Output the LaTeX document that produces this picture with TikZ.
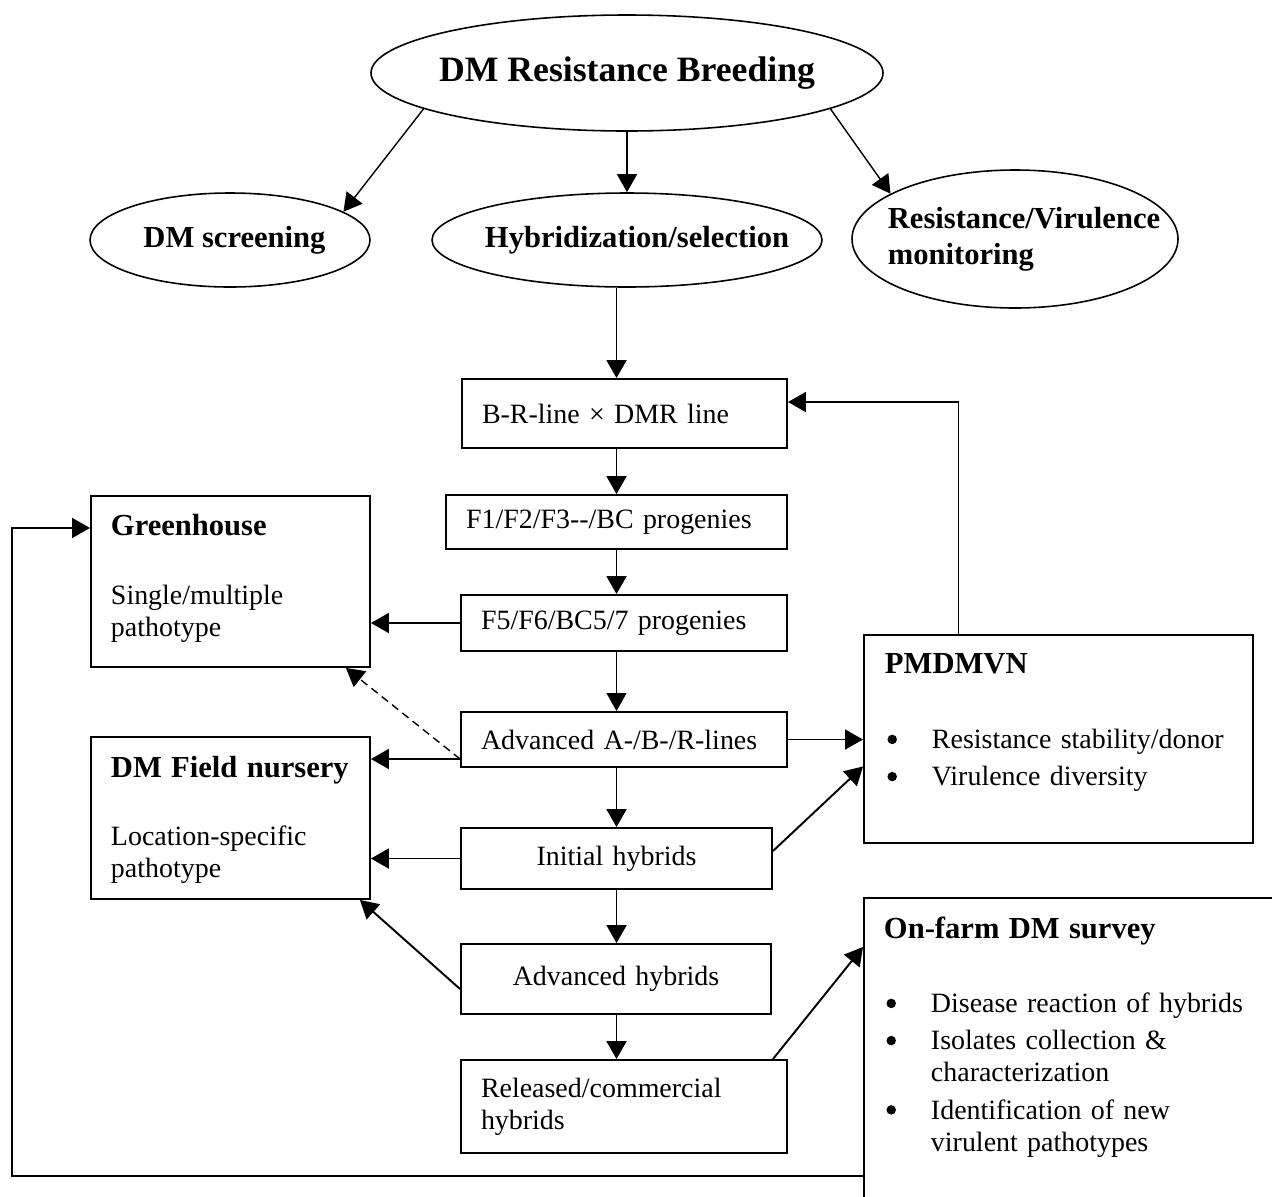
\documentclass[tikz,border=0pt]{standalone}
\usepackage{fontspec}
\setmainfont{Liberation Serif}
\usetikzlibrary{shapes.geometric,arrows.meta}

\begin{document}
\begin{tikzpicture}[
  font=\fontsize{15.9}{18.3}\selectfont,
  oval/.style={draw,ellipse,line width=0.9pt,inner sep=0pt},
  stage/.style={draw,rectangle,line width=1.1pt,inner xsep=0.4cm,align=left},
  panel/.style={draw,rectangle,line width=1.1pt,inner xsep=0.4cm,inner ysep=0pt,align=left,anchor=north west},
  head/.style={font=\fontsize{17.4}{20.5}\selectfont\bfseries},
  arr/.style={-{Triangle[length=0.36cm,width=0.4cm]},line width=1.1pt}]
\def\bul{\makebox[0.94cm][l]{\hspace{0.05cm}\tikz[baseline=-0.33em]\fill (0,0) circle (0.095cm);}}
\def\hd#1{{\fontsize{17.4}{20.5}\selectfont\bfseries #1}}

\useasboundingbox (0,0) rectangle (25.44,-23.92);
\clip (0,0) rectangle (25.44,-23.92);

% ellipses
\node[oval,minimum width=10.24cm,minimum height=2.32cm,
label={[font=\fontsize{20.3}{24}\selectfont\bfseries]center:DM Resistance Breeding}] (top) at (12.54,-1.46) {};
\node[oval,minimum width=5.6cm,minimum height=1.88cm,
label={[head,xshift=0.09cm]center:DM screening}] (screen) at (4.6,-4.8) {};
\node[oval,minimum width=7.8cm,minimum height=1.88cm,
label={[head,xshift=0.2cm]center:Hybridization/selection}] (hybrid) at (12.54,-4.8) {};
\node[oval,minimum width=6.52cm,minimum height=2.76cm,
label={[head,align=left,xshift=0.18cm]center:Resistance/Virulence\\monitoring}] (monitor) at (20.3,-4.78) {};

% breeding steps
\coordinate (axis) at (12.33,0);
\node[stage,text width=5.7cm,minimum height=1.38cm] (cross) at (12.49,-8.27) {B-R-line × DMR line};
\node[stage,text width=6.02cm,minimum height=1.08cm] (prog13) at (12.33,-10.44) {F1/F2/F3-{}-/BC progenies};
\node[stage,text width=5.72cm,minimum height=1.12cm] (prog57) at (12.48,-12.46) {F5/F6/BC5/7 progenies};
\node[stage,text width=5.72cm,minimum height=1.1cm] (lines) at (12.48,-14.79) {Advanced A-/B-/R-lines};
\node[stage,text width=5.42cm,minimum height=1.22cm,align=center] (inithyb) at (12.33,-17.17) {Initial hybrids};
\node[stage,text width=5.4cm,minimum height=1.4cm,align=center] (advhyb) at (12.32,-19.58) {Advanced hybrids};
\node[stage,text width=5.72cm,minimum height=1.86cm] (released) at (12.48,-22.13) {Released/commercial\\hybrids};

% side panels
\node[panel,text width=4.78cm,text height=0.8cm,text depth=2.62cm] (green) at (1.8,-9.9)
{\hd{Greenhouse}\\[0.73cm]Single/multiple\\pathotype};
\node[panel,text width=4.78cm,text height=0.82cm,text depth=2.42cm] (field) at (1.8,-14.72)
{\mbox{\hd{DM Field nursery}}\\[0.71cm]Location-specific\\pathotype};
\node[panel,inner xsep=0.42cm,text width=6.94cm,text height=0.78cm,text depth=3.38cm] (pmd) at (17.26,-12.68)
{\hd{PMDMVN}\\[0.85cm]\bul Resistance stability/donor\\[0.1cm]\bul Virulence diversity};
\node[panel,text width=8cm,text height=0.82cm,text depth=6cm] (farm) at (17.26,-17.94)
{\hd{On-farm DM survey}\\[0.83cm]\bul Disease reaction of hybrids\\[0.1cm]\bul Isolates collection \&\\\hspace*{0.94cm}characterization\\[0.1cm]\bul Identification of new\\\hspace*{0.94cm}virulent pathotypes};

% connectors
\draw[arr,line width=0.8pt] (top.190) -- (screen.14);
\draw[arr,line width=0.8pt] (top) -- (hybrid);
\draw[arr,line width=0.8pt] (top.350) -- (monitor.160);

\draw[arr] (hybrid.south -| axis) -- (cross.north -| axis);
\draw[arr] (cross.south -| axis) -- (prog13.north -| axis);
\draw[arr] (prog13.south -| axis) -- (prog57.north -| axis);
\draw[arr,line width=0.5pt] (prog57.south -| axis) -- (lines.north -| axis);
\draw[arr] (lines.south -| axis) -- (inithyb.north -| axis);
\draw[arr] (inithyb.south -| axis) -- (advhyb.north -| axis);
\draw[arr] (advhyb.south -| axis) -- (released.north -| axis);

\draw[arr] (prog57.west) -- (prog57.west -| green.east);
\coordinate (aw) at ([yshift=0.18cm]lines.south west);
\draw[arr] (aw) -- (aw -| field.east);
\draw[arr,line width=0.8pt,dash pattern=on 4.5pt off 3pt] (aw) -- ([xshift=-0.5cm]green.south east);
\draw[arr] (inithyb.west) -- (inithyb.west -| field.east);
\draw[arr] ([yshift=-0.2cm]advhyb.west) -- ([xshift=-0.22cm]field.south east);

\draw[arr] (lines.east) -- (lines.east -| pmd.west);
\draw[arr] ([yshift=0.15cm]inithyb.east) -- ([yshift=-0.55cm]pmd.west);
\draw[arr] ([xshift=-2cm]pmd.north) |- ([yshift=0.23cm]cross.east);
\draw[arr] ([xshift=-0.3cm]released.north east) -- ([yshift=-1cm]farm.north west);
\draw[arr] ([yshift=-5.58cm]farm.north west) -- ++(-17.02,0) |- ([yshift=1.07cm]green.west);

\end{tikzpicture}
\end{document}
